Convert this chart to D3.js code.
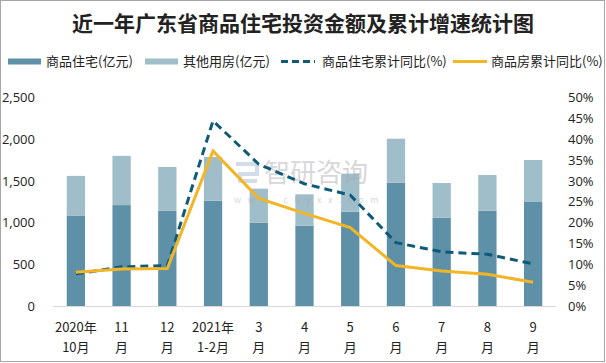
<!DOCTYPE html>
<html><head><meta charset="utf-8">
<script src="https://cdn.jsdelivr.net/npm/d3@7"></script>
<style>html,body{margin:0;padding:0;background:#fff;}svg{display:block;font-family:"Microsoft YaHei","Noto Sans CJK SC",sans-serif;}</style>
</head><body><svg id="c" width="606" height="363"></svg>
<script>
const categories = [["2020年","10月"],["11","月"],["12","月"],["2021年","1-2月"],["3","月"],["4","月"],["5","月"],["6","月"],["7","月"],["8","月"],["9","月"]];
const residential = [1080,1210,1140,1263,1000,963,1131,1479,1059,1143,1247];
const otherHousing = [480,590,527,524,407,376,456,527,416,428,504];
const resCumYoY = [7.7,9.4,9.7,44.4,34.0,29.3,26.6,15.2,13.0,12.4,10.1];
const allCumYoY = [8.1,8.9,9.0,37.2,25.8,22.2,18.8,9.7,8.4,7.6,5.7];
const leftTicks = [0,500,1000,1500,2000,2500];
const rightTicks = [0,5,10,15,20,25,30,35,40,45,50];
const title = "近一年广东省商品住宅投资金额及累计增速统计图";
const legendNames = ["商品住宅(亿元)","其他用房(亿元)","商品住宅累计同比(%)","商品房累计同比(%)"];

const C = {res:"#5E91A7", oth:"#A0BDCA", dash:"#0E5A78", org:"#F2B526"};
const svg = d3.select("#c");
svg.append("rect").attr("x",0.5).attr("y",0.5).attr("width",604).attr("height",361).attr("fill","#fff").attr("stroke","#a6a6a6");

const L=53, R=556, T=97.5, B=306;
const x = d3.scaleBand().domain(d3.range(categories.length)).range([L,R]).paddingInner(0.6).paddingOuter(0.3);
const yL = d3.scaleLinear().domain([0,2500]).range([B,T]);
const yR = d3.scaleLinear().domain([0,50]).range([B,T]);

svg.append("text").attr("x",303).attr("y",31).attr("text-anchor","middle")
  .attr("font-family","'Noto Sans CJK SC',serif").attr("font-weight","bold").attr("font-size",21).attr("fill","#222").text(title);

// bars
const g = svg.append("g");
g.selectAll("rect.r").data(residential).join("rect").attr("class","r")
  .attr("x",(d,i)=>x(i)).attr("width",x.bandwidth()).attr("y",d=>yL(d)).attr("height",d=>B-yL(d)).attr("fill",C.res);
g.selectAll("rect.o").data(otherHousing).join("rect").attr("class","o")
  .attr("x",(d,i)=>x(i)).attr("width",x.bandwidth()).attr("y",(d,i)=>yL(d+residential[i])).attr("height",(d,i)=>yL(residential[i])-yL(d+residential[i])).attr("fill",C.oth);

// watermark
const wm = svg.append("g").attr("opacity",0.45);
wm.append("text").attr("x",264).attr("y",182).attr("font-size",26).attr("fill","#a8a8a8").attr("font-family","'Noto Sans CJK SC'").text("智研咨询");
wm.append("text").attr("x",234).attr("y",203).attr("font-size",9).attr("fill","#a8a8a8").attr("letter-spacing","6.4").text("www.chyxx.com");
wm.append("path").attr("d","M236,164 H257 V174 H240 V181 H257").attr("fill","none").attr("stroke","#9fb3cf").attr("stroke-width",4);

// axis line
svg.append("line").attr("x1",L).attr("x2",R).attr("y1",B+0.5).attr("y2",B+0.5).attr("stroke","#d9d9d9");

const cx = i => x(i)+x.bandwidth()/2;
const line = d3.line().x((d,i)=>cx(i)).y(d=>yR(d));
svg.append("path").datum(resCumYoY).attr("d",line).attr("fill","none").attr("stroke",C.dash).attr("stroke-width",3).attr("stroke-dasharray","8,5");
svg.append("path").datum(allCumYoY).attr("d",line).attr("fill","none").attr("stroke",C.org).attr("stroke-width",3);

// axes
const fmt = d3.format(",");
const axL = d3.axisLeft(yL).tickValues(leftTicks).tickFormat(fmt).tickSize(0).tickPadding(0);
svg.append("g").attr("transform","translate(35,0)").call(axL).call(s=>s.select(".domain").remove())
  .selectAll("text").attr("font-size",13).attr("fill","#222").attr("font-family","'Open Sans','DejaVu Sans',sans-serif");
const axR = d3.axisRight(yR).tickValues(rightTicks).tickFormat(d=>d+"%").tickSize(0).tickPadding(0);
svg.append("g").attr("transform","translate(568,0)").call(axR).call(s=>s.select(".domain").remove())
  .selectAll("text").attr("font-size",13).attr("fill","#222").attr("font-family","'Open Sans','DejaVu Sans',sans-serif");

// x labels
const xl = svg.append("g");
categories.forEach((c,i)=>{
  const t = xl.append("text").attr("text-anchor","middle").attr("font-size",13).attr("fill","#222");
  t.append("tspan").attr("x",cx(i)).attr("y",332).text(c[0]);
  t.append("tspan").attr("x",cx(i)).attr("y",352).text(c[1]);
});

// legend
const lg = svg.append("g").attr("font-size",13).attr("fill","#222");
const items = [{x:8,t:0},{x:145,t:1},{x:281,t:2},{x:453,t:3}];
items.forEach((it,k)=>{
  if(k<2) lg.append("rect").attr("x",it.x).attr("y",58.5).attr("width",33).attr("height",6).attr("fill",k==0?C.res:C.oth);
  else lg.append("line").attr("x1",it.x).attr("x2",it.x+34).attr("y1",61.5).attr("y2",61.5).attr("stroke",k==2?C.dash:C.org).attr("stroke-width",3).attr("stroke-dasharray",k==2?"7,4":null);
  lg.append("text").attr("x",it.x+(k==2?41:38)).attr("y",66).text(legendNames[it.t]);
});
</script></body></html>
